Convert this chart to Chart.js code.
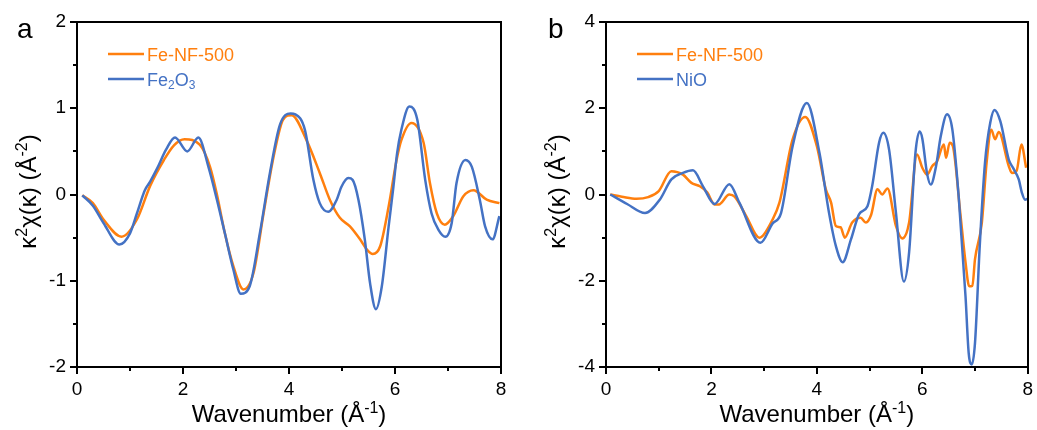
<!DOCTYPE html>
<html><head><meta charset="utf-8">
<script src="https://cdn.jsdelivr.net/npm/chart.js@4.4.1/dist/chart.umd.min.js"></script>
<style>
html,body{margin:0;padding:0;background:#fff;}
body{width:1037px;height:430px;overflow:hidden;position:relative;}
canvas{position:absolute;top:0;}
#ca{left:0;}
#cb{left:518px;}
</style></head>
<body>
<canvas id="ca" width="518" height="430"></canvas>
<canvas id="cb" width="519" height="430"></canvas>
<script>
// ---------- Data ----------
// Panel a: Fe-NF-500
const aFeNF_k = [0.1,0.3,0.5,0.84,1.13,1.38,1.64,1.83,2.03,2.32,2.51,2.64,2.79,2.95,3.14,3.33,3.52,3.71,3.89,4.05,4.33,4.58,4.77,4.96,5.15,5.34,5.47,5.58,5.72,5.88,6.03,6.12,6.31,6.54,6.66,6.79,6.94,7.10,7.29,7.48,7.73,7.97];
const aFeNF_v = [-0.01,-0.1,-0.29,-0.49,-0.29,0.1,0.40,0.57,0.64,0.575,0.32,0.0,-0.45,-0.83,-1.10,-0.91,-0.22,0.44,0.87,0.92,0.63,0.25,-0.06,-0.27,-0.37,-0.52,-0.64,-0.69,-0.60,-0.14,0.40,0.63,0.83,0.60,0.13,-0.22,-0.35,-0.25,-0.02,0.05,-0.06,-0.10];
// Panel a: Fe2O3
const aFe2O3_k = [0.1,0.3,0.5,0.8,1.0,1.13,1.28,1.38,1.51,1.68,1.85,2.08,2.29,2.48,2.64,2.79,2.95,3.09,3.26,3.45,3.64,3.83,4.03,4.12,4.30,4.46,4.58,4.74,4.90,4.99,5.12,5.20,5.31,5.43,5.53,5.64,5.75,5.88,5.97,6.04,6.12,6.27,6.42,6.57,6.69,6.82,6.95,7.07,7.16,7.33,7.45,7.60,7.70,7.84,7.97];
const aFe2O3_v = [-0.01,-0.13,-0.33,-0.58,-0.45,-0.22,0.05,0.15,0.30,0.52,0.66,0.50,0.66,0.32,-0.06,-0.45,-0.87,-1.15,-1.06,-0.45,0.25,0.81,0.94,0.93,0.75,0.17,-0.10,-0.20,-0.06,0.09,0.19,0.17,-0.06,-0.52,-1.03,-1.33,-1.07,-0.37,0.09,0.48,0.75,1.02,0.87,0.17,-0.22,-0.41,-0.49,-0.33,0.13,0.40,0.32,-0.06,-0.37,-0.52,-0.25];
// Panel b: Fe-NF-500
const bFeNF_k = [0.08,0.3,0.58,0.8,1.0,1.24,1.46,1.62,1.78,1.92,2.06,2.14,2.34,2.44,2.66,2.91,3.16,3.29,3.54,3.78,4.0,4.17,4.27,4.36,4.45,4.53,4.67,4.83,4.93,5.03,5.15,5.24,5.34,5.50,5.62,5.75,5.90,6.0,6.09,6.19,6.28,6.41,6.45,6.52,6.58,6.72,6.82,6.89,6.95,7.0,7.13,7.22,7.31,7.38,7.45,7.64,7.70,7.79,7.88,7.97];
const bFeNF_v = [0,-0.05,-0.1,-0.06,0.08,0.54,0.46,0.27,0.19,0.05,-0.23,-0.23,0.0,-0.05,-0.5,-1.0,-0.58,-0.19,1.28,1.80,1.12,0.12,-0.19,-0.73,-0.76,-1.0,-0.65,-0.54,-0.65,-0.47,0.12,0.0,0.14,-0.73,-1.02,-0.65,0.93,0.62,0.46,0.66,0.77,1.16,0.85,1.20,1.12,-0.42,-1.57,-2.13,-2.12,-1.5,-0.65,0.74,1.5,1.28,1.45,0.66,0.50,0.55,1.16,0.62];
// Panel b: NiO
const bNiO_k = [0.08,0.4,0.74,1.02,1.24,1.46,1.65,1.84,2.06,2.34,2.53,2.93,3.16,3.32,3.54,3.81,4.05,4.23,4.36,4.49,4.65,4.80,4.96,5.05,5.18,5.26,5.37,5.50,5.65,5.75,5.87,5.95,6.0,6.09,6.16,6.26,6.35,6.47,6.57,6.69,6.82,6.88,6.94,7.0,7.09,7.19,7.29,7.37,7.48,7.64,7.73,7.83,7.89,7.95,8.0];
const bNiO_v = [0,-0.22,-0.43,-0.12,0.35,0.50,0.56,0.19,-0.22,0.24,-0.19,-1.12,-0.67,-0.43,1.12,2.12,0.96,-0.42,-1.19,-1.57,-1.03,-0.46,-0.27,0.20,1.20,1.43,1.04,-0.42,-2.02,-1.34,0.96,1.46,1.30,0.49,0.23,0.65,1.35,1.86,1.51,-0.04,-2.36,-3.67,-3.94,-3.44,-1.19,0.74,1.67,1.96,1.70,0.81,0.6,0.35,0.04,-0.12,-0.1];

// Axis ranges / tick values
const xMajorTicks = [0,2,4,6,8];
const xMinorTicks = [1,3,5,7];
const aYRange = [-2,2], aYStep = 1, aYMinor = [-1.5,-0.5,0.5,1.5];
const bYRange = [-4,4], bYStep = 2, bYMinor = [-3,-1,1,3];

const ORANGE = '#FF7F0E';
const BLUE = '#4472C4';
const FONT = '"Liberation Sans", Arial, sans-serif';

function pts(k, v){ return k.map((x,i)=>({x:x, y:v[i]})); }

function drawRich(ctx, parts, x, y, size, color, align){
  let w = 0;
  const widths = parts.map(p=>{
    ctx.font = (p.s ? Math.round(size*0.65) : size) + 'px ' + FONT;
    const m = ctx.measureText(p.t).width; w += m; return m;
  });
  let cx = align === 'center' ? x - w/2 : x;
  ctx.fillStyle = color;
  ctx.textBaseline = 'alphabetic';
  ctx.textAlign = 'left';
  parts.forEach((p,i)=>{
    ctx.font = (p.s ? Math.round(size*0.65) : size) + 'px ' + FONT;
    const dy = p.s === 1 ? -size*0.38 : (p.s === -1 ? size*0.2 : 0);
    ctx.fillText(p.t, cx, y + dy);
    cx += widths[i];
  });
}

const decoPlugin = {
  id: 'deco',
  afterDraw(chart, args, o){
    const ctx = chart.ctx, ca = chart.chartArea;
    const xs = chart.scales.x, ys = chart.scales.y;
    ctx.save();
    // frame
    ctx.strokeStyle = '#000'; ctx.lineWidth = 2;
    ctx.strokeRect(Math.round(ca.left), Math.round(ca.top), Math.round(ca.right - ca.left), Math.round(ca.bottom - ca.top));
    // minor ticks
    ctx.beginPath();
    o.xMinor.forEach(v=>{ const p = Math.round(xs.getPixelForValue(v)); ctx.moveTo(p, ca.bottom); ctx.lineTo(p, ca.bottom + 4); });
    o.yMinor.forEach(v=>{ const p = Math.round(ys.getPixelForValue(v)); ctx.moveTo(ca.left, p); ctx.lineTo(ca.left - 4, p); });
    ctx.stroke();
    // x title
    const cxm = (ca.left + ca.right)/2;
    drawRich(ctx, [{t:'Wavenumber (Å'},{t:'-1',s:1},{t:')'}], cxm, 422, 24, '#000', 'center');
    // y title
    ctx.save();
    ctx.translate(ca.left - 41, (ca.top + ca.bottom)/2 - 3);
    ctx.rotate(-Math.PI/2);
    drawRich(ctx, [{t:'κ'},{t:'2',s:1},{t:'χ(κ) (Å'},{t:'-2',s:1},{t:')'}], 0, 0, 24, '#000', 'center');
    ctx.restore();
    // panel letter
    ctx.font = '28px ' + FONT; ctx.fillStyle = '#000'; ctx.textAlign = 'left'; ctx.textBaseline = 'alphabetic';
    ctx.fillText(o.letter, o.letterX, 38);
    // legend
    o.legend.forEach(item=>{
      ctx.strokeStyle = item.color; ctx.lineWidth = 2.5;
      ctx.beginPath(); ctx.moveTo(o.legX, item.y); ctx.lineTo(o.legX + 36, item.y); ctx.stroke();
      drawRich(ctx, item.parts, o.legX + 39, item.y + 6.5, 18, item.color, 'left');
    });
    ctx.restore();
  }
};

function makeChart(id, s1, s2, yRange, yStep, yWidth, padRight, decoOpts){
  return new Chart(document.getElementById(id), {
    type: 'line',
    data: { datasets: [s2, s1] },
    options: {
      responsive: false, animation: false, events: [],
      layout: { padding: { left: 0, top: 22, right: padRight, bottom: 0 } },
      plugins: { legend: {display:false}, tooltip: {enabled:false}, deco: decoOpts },
      elements: { point: { radius: 0 }, line: { borderWidth: 2.5, cubicInterpolationMode: 'monotone' } },
      scales: {
        x: {
          type: 'linear', min: 0, max: 8,
          afterBuildTicks: s => { s.ticks = xMajorTicks.map(v=>({value:v})); },
          afterFit: s => { s.height = 63; },
          border: { display: false },
          grid: { drawOnChartArea: false, drawTicks: true, tickLength: 7, tickWidth: 2, tickColor: '#000', lineWidth: 2, color: '#000' },
          ticks: { color: '#000', font: { family: FONT, size: 19 }, padding: 4, maxRotation: 0 }
        },
        y: {
          type: 'linear', min: yRange[0], max: yRange[1],
          ticks: { stepSize: yStep, color: '#000', font: { family: FONT, size: 19 }, padding: 4 },
          afterFit: s => { s.width = yWidth; },
          border: { display: false },
          grid: { drawOnChartArea: false, drawTicks: true, tickLength: 7, tickWidth: 2, tickColor: '#000', lineWidth: 2, color: '#000' }
        }
      }
    },
    plugins: [decoPlugin]
  });
}

makeChart('ca',
  { label: 'Fe-NF-500', data: pts(aFeNF_k, aFeNF_v), borderColor: ORANGE },
  { label: 'Fe2O3', data: pts(aFe2O3_k, aFe2O3_v), borderColor: BLUE },
  aYRange, aYStep, 77, 17,
  { letter: 'a', letterX: 17, xMinor: xMinorTicks, yMinor: aYMinor, legX: 108,
    legend: [
      { color: ORANGE, y: 54, parts: [{t:'Fe-NF-500'}] },
      { color: BLUE, y: 79, parts: [{t:'Fe'},{t:'2',s:-1},{t:'O'},{t:'3',s:-1}] }
    ] });

makeChart('cb',
  { label: 'Fe-NF-500', data: pts(bFeNF_k, bFeNF_v), borderColor: ORANGE },
  { label: 'NiO', data: pts(bNiO_k, bNiO_v), borderColor: BLUE },
  bYRange, bYStep, 88, 8,
  { letter: 'b', letterX: 30, xMinor: xMinorTicks, yMinor: bYMinor, legX: 119,
    legend: [
      { color: ORANGE, y: 54, parts: [{t:'Fe-NF-500'}] },
      { color: BLUE, y: 79, parts: [{t:'NiO'}] }
    ] });
</script>
</body></html>
